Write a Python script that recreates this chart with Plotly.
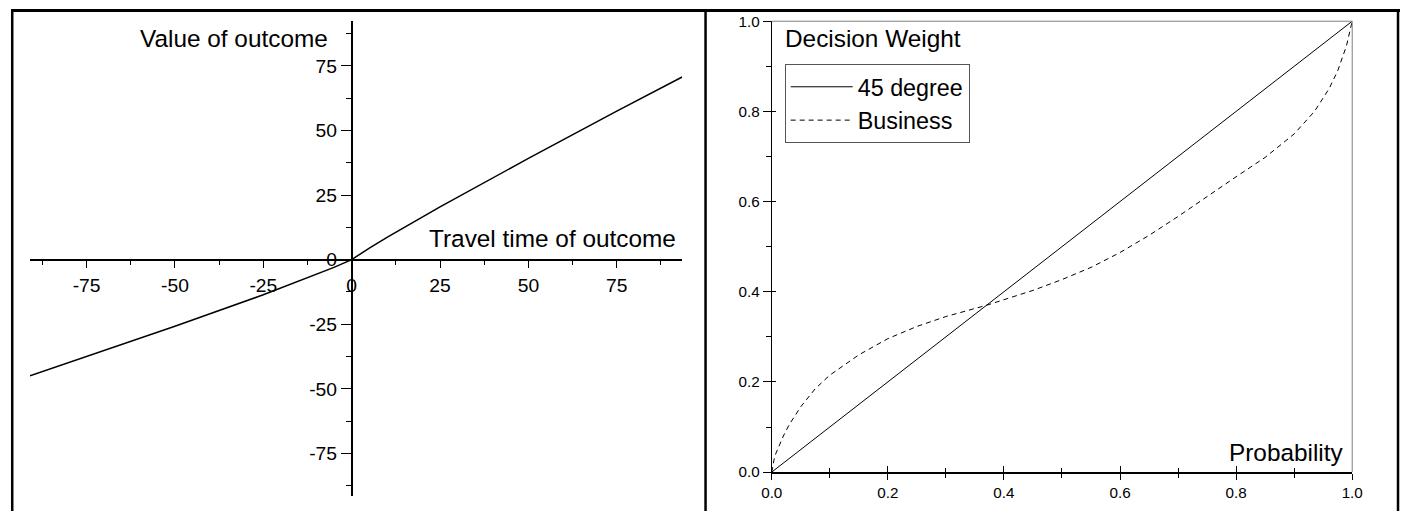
import plotly.graph_objects as go

# ---- Left panel: value function (travel time of outcome vs value of outcome)
travel_time = [-91, -75, -50, -25, -10, -5, 0, 5, 10, 25, 50, 75, 93.5]
value_outcome = [-45.0, -37.6, -25.8, -13.6, -5.8, -3.0, 0, 4.5, 8.6, 20.4, 39.2, 57.5, 70.7]
left_x_ticks = [-75, -50, -25, 0, 25, 50, 75]
left_y_ticks = [-75, -50, -25, 0, 25, 50, 75]
left_tick_text = ["-75", "-50", "-25", "0", "25", "50", "75"]

# ---- Right panel: probability weighting
prob_45 = [0.0, 1.0]
weight_45 = [0.0, 1.0]
prob_bus = [0, 0.005, 0.01, 0.02, 0.03, 0.05, 0.075, 0.1, 0.15, 0.2, 0.25, 0.3, 0.37,
            0.4, 0.45, 0.5, 0.55, 0.6, 0.65, 0.7, 0.75, 0.8, 0.85, 0.9, 0.935, 0.96, 0.975, 0.99, 1.0]
weight_bus = [0, 0.035, 0.05, 0.08, 0.105, 0.145, 0.185, 0.215, 0.26, 0.296, 0.323, 0.345, 0.370,
              0.382, 0.403, 0.427, 0.454, 0.487, 0.525, 0.567, 0.612, 0.655, 0.698, 0.75, 0.80, 0.85, 0.89, 0.945, 1.0]
right_ticks = [0.0, 0.2, 0.4, 0.6, 0.8, 1.0]
right_tick_text = ["0.0", "0.2", "0.4", "0.6", "0.8", "1.0"]

# Page geometry: the browser keeps its default 8px body margin and the captured
# area is (1405+16) x (511+16), which is then fitted into 1405 x 511.
MARGIN = 8
CAP_W, CAP_H = 1405 + 2 * MARGIN, 511 + 2 * MARGIN
SX, SY = CAP_W / 1405, CAP_H / 511
W = CAP_W - MARGIN
H = CAP_H - MARGIN
F = 1.015  # font compensation for the final fit
FONT = "Liberation Sans, Arial, sans-serif"


def px(X):
    return min(max((X * SX - MARGIN) / W, 0.0), 1.0)


def py(Y):
    return min(max(1 - (Y * SY - MARGIN) / H, 0.0), 1.0)


# left panel geometry
lx_dom = [px(27), px(682)]
ly_dom = [py(496), py(20)]
lx_rng = [-91, 93.5]
ly_rng = [-91.5, 92.3]
x_axis_pos = ly_dom[0] + (0 - ly_rng[0]) / (ly_rng[1] - ly_rng[0]) * (ly_dom[1] - ly_dom[0])
y_axis_pos = lx_dom[0] + (0 - lx_rng[0]) / (lx_rng[1] - lx_rng[0]) * (lx_dom[1] - lx_dom[0])

# right panel geometry
rx_dom = [px(772), px(1355)]
ry_dom = [py(472), py(20)]

fig = go.Figure()
fig.add_trace(go.Scatter(x=travel_time, y=value_outcome, mode="lines",
                         line=dict(color="black", width=1.5), xaxis="x", yaxis="y",
                         showlegend=False, hoverinfo="skip"))
fig.add_trace(go.Scatter(x=prob_45, y=weight_45, mode="lines", name="45 degree",
                         line=dict(color="black", width=1), xaxis="x2", yaxis="y2"))
fig.add_trace(go.Scatter(x=prob_bus, y=weight_bus, mode="lines", name="Business",
                         line=dict(color="black", width=1, dash="5px,4px"),
                         xaxis="x2", yaxis="y2"))
# invisible helper trace for inside tick overlay axes
fig.add_trace(go.Scatter(x=[None], y=[None], mode="lines", xaxis="x3", yaxis="y3",
                         showlegend=False, hoverinfo="skip"))

axis_common = dict(showgrid=False, zeroline=False, showline=True, linecolor="black")

fig.update_layout(
    width=W, height=H, margin=dict(l=0, r=0, t=0, b=0), autosize=False,
    paper_bgcolor="white", plot_bgcolor="white",
    font=dict(family=FONT, color="black"),
    xaxis=dict(domain=lx_dom, range=lx_rng, anchor="free", position=x_axis_pos,
               tickvals=left_x_ticks, ticktext=left_tick_text,
               ticks="outside", ticklen=8, tickwidth=1.2, tickcolor="black",
               minor=dict(dtick=12.5, tick0=0, ticks="outside", ticklen=5, tickcolor="black", tickwidth=1.2),
               linewidth=1.5, tickfont=dict(size=19 * F, family=FONT), **axis_common),
    yaxis=dict(domain=ly_dom, range=ly_rng, anchor="free", position=y_axis_pos,
               tickvals=left_y_ticks, ticktext=left_tick_text,
               ticks="outside", ticklen=10, tickwidth=1.2, tickcolor="black",
               minor=dict(dtick=12.5, tick0=0, ticks="outside", ticklen=5, tickcolor="black", tickwidth=1.2),
               linewidth=1.5, tickfont=dict(size=19 * F, family=FONT), **axis_common),
    xaxis2=dict(domain=rx_dom, range=[0, 1], anchor="y2",
                tickvals=right_ticks, ticktext=right_tick_text,
                ticks="outside", ticklen=6, tickwidth=1, tickcolor="black",
                minor=dict(dtick=0.1, tick0=0, ticks="outside", ticklen=4, tickcolor="black", tickwidth=1),
                linewidth=2, tickfont=dict(size=15 * F, family=FONT), **axis_common),
    yaxis2=dict(domain=ry_dom, range=[0, 1], anchor="x2",
                tickvals=right_ticks, ticktext=right_tick_text,
                ticks="outside", ticklen=8, tickwidth=1, tickcolor="black",
                minor=dict(dtick=0.1, tick0=0, ticks="outside", ticklen=5, tickcolor="black", tickwidth=1),
                linewidth=1, tickfont=dict(size=15 * F, family=FONT), **axis_common),
    xaxis3=dict(domain=rx_dom, range=[0, 1], anchor="y3", overlaying="x2",
                tickvals=right_ticks, showticklabels=False,
                ticks="inside", ticklen=6, tickwidth=1, tickcolor="black",
                minor=dict(dtick=0.1, tick0=0, ticks="inside", ticklen=4, tickcolor="black", tickwidth=1),
                showgrid=False, zeroline=False, showline=False),
    yaxis3=dict(domain=ry_dom, range=[0, 1], anchor="x3", overlaying="y2",
                tickvals=right_ticks, showticklabels=False,
                ticks="inside", ticklen=4, tickwidth=1, tickcolor="black",
                showgrid=False, zeroline=False, showline=False),
    legend=dict(x=px(785), y=py(63), xanchor="left", yanchor="top",
                bgcolor="white", bordercolor="#555555", borderwidth=1,
                font=dict(size=23 * F, family=FONT), tracegroupgap=0, itemwidth=62),
    showlegend=True,
)

annotations = [
    dict(text="Value of outcome", x=px(328), y=py(37), xanchor="right", yanchor="middle"),
    dict(text="Travel time of outcome", x=px(678), y=py(238), xanchor="right", yanchor="middle"),
    dict(text="Decision Weight", x=px(783), y=py(37), xanchor="left", yanchor="middle"),
    dict(text="Probability", x=px(1349), y=py(452), xanchor="right", yanchor="middle"),
]
for a in annotations:
    fig.add_annotation(xref="paper", yref="paper", showarrow=False,
                       font=dict(size=24 * F, family=FONT, color="black"), **a)

# right panel gray frame (top and right)
fig.add_shape(type="line", xref="x2 domain", yref="y2 domain", x0=0, x1=1, y0=1, y1=1,
              line=dict(color="#808080", width=1))
fig.add_shape(type="line", xref="x2 domain", yref="y2 domain", x0=1, x1=1, y0=0, y1=1,
              line=dict(color="#808080", width=1))

# table-like outer borders (left/top pushed to the figure edge)
top_y = 1 - 1.5 / H
fig.add_shape(type="line", xref="paper", yref="paper", x0=0, x1=px(1403), y0=top_y, y1=top_y,
              line=dict(color="black", width=3))
for xb in [1.25 / W, px(705.5), px(1401)]:
    fig.add_shape(type="line", xref="paper", yref="paper", x0=xb, x1=xb, y0=0, y1=top_y,
                  line=dict(color="black", width=2.5))

fig.write_html("out.html")
